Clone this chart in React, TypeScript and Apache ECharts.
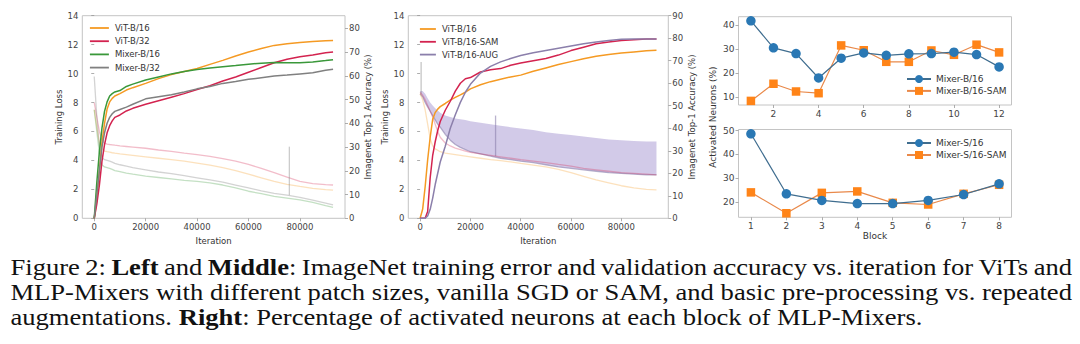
import React, { useEffect, useRef } from 'react';
import * as echarts from 'echarts';

// ---------- Left chart (ViT / Mixer patch sizes) ----------
const leftIter = [0, 1000, 2000, 3000, 4000, 5000, 6000, 7000, 8000, 10000, 12500, 15000, 20000, 25000, 30000, 35000, 40000, 45000, 50000, 55000, 60000, 65000, 70000, 75000, 80000, 85000, 90000, 92900];
const leftAccVitB16 = [0, 8, 20, 32, 40, 46, 49, 50.5, 51.5, 52.5, 54, 55, 56.8, 58.8, 60.5, 61.8, 63.1, 64.8, 66.5, 68.3, 70, 71.5, 72.8, 73.5, 74, 74.4, 74.8, 74.9];
const leftAccVitB32 = [0, 6, 14, 24, 31, 36, 39, 41, 42.5, 43.5, 45.2, 46.3, 48, 49.5, 51, 52.5, 54.2, 55.8, 57.8, 59.5, 61.5, 63.5, 65.5, 67, 68, 68.8, 69.7, 70];
const leftAccMixB16 = [0, 15, 28, 38, 45, 49, 51.5, 52.5, 53.2, 53.8, 55.5, 56.5, 58.2, 59.5, 60.8, 61.8, 62.6, 63.3, 63.8, 64.3, 64.9, 65.3, 65.6, 65.5, 65.5, 65.8, 66.4, 66.8];
const leftAccMixB32 = [0, 10, 20, 30, 36, 40, 42.5, 44, 45, 45.8, 46.8, 48, 50.3, 51.2, 52, 53.2, 54.5, 55.5, 56.8, 57.6, 58.5, 59.2, 59.9, 60.3, 60.8, 61.3, 62.3, 62.8];
const leftLossVitB16 = [7.5, 6.3, 5.2, 4.8, 4.65, 4.6, 4.57, 4.53, 4.5, 4.45, 4.4, 4.35, 4.25, 4.15, 4.05, 3.95, 3.82, 3.68, 3.5, 3.3, 3.05, 2.8, 2.55, 2.35, 2.2, 2.07, 1.98, 1.95];
const leftLossVitB32 = [8.0, 7.0, 6.0, 5.4, 5.2, 5.13, 5.1, 5.08, 5.05, 5.0, 4.96, 4.92, 4.84, 4.72, 4.62, 4.5, 4.4, 4.28, 4.12, 3.95, 3.72, 3.45, 3.15, 2.85, 2.55, 2.4, 2.33, 2.3];
const leftLossMixB16 = [7.5, 6.0, 4.5, 3.7, 3.55, 3.5, 3.45, 3.38, 3.3, 3.22, 3.12, 3.05, 2.92, 2.82, 2.72, 2.62, 2.55, 2.45, 2.3, 2.1, 1.87, 1.7, 1.52, 1.4, 1.27, 1.1, 0.88, 0.76];
const leftLossMixB32 = [9.8, 7.0, 5.0, 4.2, 4.05, 4.0, 3.95, 3.88, 3.8, 3.7, 3.6, 3.5, 3.35, 3.2, 3.08, 2.95, 2.8, 2.65, 2.5, 2.3, 2.1, 1.9, 1.72, 1.6, 1.45, 1.25, 1.05, 0.92];
const leftSpikeIter = [75900, 75900];
const leftSpikeLoss = [1.6, 4.95];

// ---------- Middle chart (SGD / SAM / AUG) ----------
const midIter = [0, 1000, 2000, 3000, 4000, 5000, 6000, 7000, 8000, 10000, 12000, 14000, 16000, 18000, 20000, 24000, 28000, 32000, 36000, 40000, 45000, 50000, 55000, 60000, 65000, 70000, 75000, 80000, 85000, 90000, 94000];
const midAccVit = [0, 4, 14, 26, 36, 44, 47, 48.5, 49.6, 51, 52.5, 53.7, 54.8, 56, 57.5, 59.3, 60.7, 61.8, 62.8, 63.6, 65.3, 66.8, 68.3, 69.6, 70.9, 72, 72.8, 73.4, 73.9, 74.4, 74.7];
const midAccSam = [0, 0, 0, 3, 18, 28, 34, 39, 43, 48, 52, 56.5, 60, 62, 62.5, 65, 66, 66.5, 68, 69, 70, 71, 72.5, 74.5, 76, 77.5, 78.3, 79, 79.3, 79.6, 79.7];
const midAccAug = [0, 0, 0, 1, 4, 9, 15, 20, 25, 32, 40, 46, 51.5, 56, 59.5, 64.5, 67.5, 69.5, 71, 72.3, 73.5, 74.5, 75.5, 76.5, 77.5, 78.3, 79, 79.5, 79.7, 79.7, 79.6];
const midLossVit = [8.6, 8.2, 7.5, 6.5, 5.5, 5.0, 4.8, 4.7, 4.6, 4.5, 4.45, 4.4, 4.35, 4.3, 4.25, 4.15, 4.05, 3.98, 3.9, 3.8, 3.68, 3.55, 3.38, 3.15, 2.9, 2.65, 2.45, 2.25, 2.1, 2.0, 1.96];
const midLossSam = [8.7, 8.5, 8.2, 7.8, 7.4, 7.0, 6.5, 6.0, 5.6, 5.2, 5.0, 4.85, 4.75, 4.65, 4.55, 4.45, 4.35, 4.25, 4.15, 4.05, 3.95, 3.85, 3.72, 3.6, 3.45, 3.35, 3.25, 3.15, 3.1, 3.05, 3.0];
const midLossAugLow = [8.6, 8.4, 8.0, 7.7, 7.4, 7.1, 6.8, 6.5, 6.3, 5.8, 5.4, 5.1, 4.9, 4.75, 4.6, 4.45, 4.3, 4.15, 4.05, 3.95, 3.85, 3.7, 3.55, 3.45, 3.35, 3.25, 3.15, 3.1, 3.05, 3.0, 3.0];
const midLossAugHigh = [8.8, 8.8, 8.6, 8.3, 8.0, 7.8, 7.6, 7.45, 7.3, 7.1, 7.0, 6.9, 6.85, 6.8, 6.7, 6.6, 6.5, 6.4, 6.3, 6.2, 6.1, 5.95, 5.85, 5.75, 5.65, 5.55, 5.45, 5.4, 5.35, 5.3, 5.3];
const midSpike1Iter = [400, 400];
const midSpike1Loss = [8.6, 10.8];
const midSpike2Iter = [30000, 30000];
const midSpike2Loss = [4.3, 7.1];

// ---------- Right charts (activated neurons) ----------
const blocksB = [1, 2, 3, 4, 5, 6, 7, 8, 9, 10, 11, 12];
const mixerB16 = [41.7, 30.5, 28.1, 18.0, 26.2, 28.4, 27.4, 28.0, 28.1, 28.7, 27.7, 22.6];
const mixerB16Sam = [8.5, 15.6, 12.4, 11.7, 31.5, 29.5, 24.7, 24.7, 29.4, 27.6, 31.8, 28.6];
const blocksS = [1, 2, 3, 4, 5, 6, 7, 8];
const mixerS16 = [48.7, 23.4, 20.6, 19.3, 19.3, 20.6, 23.1, 27.6];
const mixerS16Sam = [24.0, 15.2, 23.8, 24.4, 19.6, 18.9, 23.4, 27.2];

// ---------- Tick labels ----------
const iterTicks = [0, 20000, 40000, 60000, 80000];
const accTicksLeft = [0, 10, 20, 30, 40, 50, 60, 70, 80];
const blockTicksB = [2, 4, 6, 8, 10, 12];
const blockTicksS = [1, 2, 3, 4, 5, 6, 7, 8];
const neuronTicksB = [10, 20, 30, 40];
const neuronTicksS = [20, 30, 40, 50];

const CAPTION_LINES = [
  'Figure 2: **Left** and **Middle**: ImageNet training error and validation accuracy vs. iteration for ViTs and',
  'MLP-Mixers with different patch sizes, vanilla SGD or SAM, and basic pre-processing vs. repeated',
  'augmentations. **Right**: Percentage of activated neurons at each block of MLP-Mixers.',
];

const FONT = 'DejaVu Sans';
const SERIF = 'Liberation Serif';
const C_ORANGE = '#f59a23';
const C_RED = '#d3234f';
const C_GREEN = '#3a983a';
const C_GRAY = '#808080';
const C_PURPLE = '#8b7fab';
const C_BLUE = '#2a78b4';
const C_ORANGE2 = '#ff8418';

const pts = (xs: number[], ys: number[]) => xs.map((x, i) => [x, ys[i]]);

function buildCaption() {
  const size = 24;
  const ctx = document.createElement('canvas').getContext('2d')!;
  const meas = (t: string, bold: boolean) => {
    ctx.font = `${bold ? 'bold ' : ''}${size}px "${SERIF}"`;
    return ctx.measureText(t).width;
  };
  const parsed = CAPTION_LINES.map((line) =>
    line.split(' ').map((w) => {
      const runs: { t: string; b: boolean }[] = [];
      w.split(/(\*\*[^*]+\*\*)/).filter(Boolean).forEach((seg) => {
        if (seg.startsWith('**')) runs.push({ t: seg.slice(2, -2), b: true });
        else runs.push({ t: seg, b: false });
      });
      const width = runs.reduce((s, r) => s + meas(r.t, r.b), 0);
      return { runs, width };
    })
  );
  const space = meas(' ', false);
  const natural = (ws: { width: number }[]) => ws.reduce((s, w) => s + w.width, 0) + space * (ws.length - 1);
  const s = 912 / natural(parsed[2]);
  const targetW = 1061.5 / s;
  const baselines = [274.3, 299.3, 324.3];
  const children: any[] = [];
  parsed.forEach((ws, li) => {
    const sum = ws.reduce((a, w) => a + w.width, 0);
    const gap = li < 2 ? (targetW - sum) / (ws.length - 1) : space;
    let x = 0;
    ws.forEach((w) => {
      children.push({
        type: 'text',
        x,
        y: baselines[li] - 8.1,
        silent: true,
        style: {
          text: w.runs.map((r) => (r.b ? `{b|${r.t}}` : r.t)).join(''),
          rich: { b: { fontWeight: 'bold', fontSize: size, fontFamily: SERIF, fill: '#111' } },
          fontSize: size,
          fontFamily: SERIF,
          fill: '#111',
          align: 'left',
          verticalAlign: 'middle',
        },
      });
      x += w.width + gap;
    });
  });
  return { type: 'group', x: 10.5, y: 0, scaleX: s, scaleY: 1, children };
}

const tick = (vals: number[] | null) => ({
  show: true,
  length: 3,
  lineStyle: { color: '#999', width: 0.8 },
  ...(vals ? { customValues: vals } : {}),
});
const lab = (vals: number[] | null, size = 8.5, margin = 4) => ({
  fontSize: size,
  color: '#444',
  fontFamily: FONT,
  margin,
  formatter: (v: number) => String(v),
  ...(vals ? { customValues: vals } : {}),
});
const nameStyle = (size = 8.5) => ({ fontSize: size, color: '#333', fontFamily: FONT });

function buildOption(): any {
  const gridBase = { show: true, borderColor: '#c4c4c4', borderWidth: 1, backgroundColor: 'transparent', containLabel: false };
  const lossLine = (name: string, xs: number[], ys: number[], color: string, xi: number, yi: number, op = 0.35) => ({
    type: 'line', name, xAxisIndex: xi, yAxisIndex: yi, data: pts(xs, ys), symbol: 'none', silent: true, z: 1,
    lineStyle: { color, width: 1.3, opacity: op }, itemStyle: { color },
  });
  const accLine = (name: string, xs: number[], ys: number[], color: string, xi: number, yi: number) => ({
    type: 'line', name, xAxisIndex: xi, yAxisIndex: yi, data: pts(xs, ys), symbol: 'none', z: 5,
    lineStyle: { color, width: 1.5 }, itemStyle: { color },
  });
  const legendLineText = { fontSize: 8.5, color: '#333', fontFamily: FONT, padding: [0, 0, 0, 1] };

  return {
    animation: false,
    backgroundColor: '#ffffff',
    grid: [
      { ...gridBase, left: 82.3, top: 15.7, width: 262.7, height: 202.6 },
      { ...gridBase, left: 408.3, top: 15.7, width: 260, height: 202.6 },
      { ...gridBase, left: 738.5, top: 16.7, width: 273, height: 88.3 },
      { ...gridBase, left: 738.5, top: 129.5, width: 273, height: 87.8 },
    ],
    xAxis: [
      {
        type: 'value', gridIndex: 0, min: -4645, max: 97545, axisLine: { show: false }, splitLine: { show: false },
        axisTick: tick(iterTicks), axisLabel: lab(iterTicks),
        name: 'Iteration', nameLocation: 'middle', nameGap: 13, nameTextStyle: nameStyle(),
      },
      {
        type: 'value', gridIndex: 1, min: -4700, max: 98700, axisLine: { show: false }, splitLine: { show: false },
        axisTick: tick(iterTicks), axisLabel: lab(iterTicks),
        name: 'Iteration', nameLocation: 'middle', nameGap: 13, nameTextStyle: nameStyle(),
      },
      {
        type: 'value', gridIndex: 2, min: 0.45, max: 12.55, axisLine: { show: false }, splitLine: { show: false },
        axisTick: tick(blockTicksB), axisLabel: lab(blockTicksB, 9),
      },
      {
        type: 'value', gridIndex: 3, min: 0.65, max: 8.35, axisLine: { show: false }, splitLine: { show: false },
        axisTick: tick(blockTicksS), axisLabel: lab(blockTicksS, 9),
        name: 'Block', nameLocation: 'middle', nameGap: 14, nameTextStyle: nameStyle(9),
      },
    ],
    yAxis: [
      {
        type: 'value', gridIndex: 0, min: 0, max: 14, interval: 2, axisLine: { show: false }, splitLine: { show: false },
        axisTick: tick(null), axisLabel: lab(null),
        name: 'Training Loss', nameLocation: 'middle', nameGap: 17, nameTextStyle: nameStyle(),
      },
      {
        type: 'value', gridIndex: 0, position: 'right', min: 0, max: 85.3, axisLine: { show: false }, splitLine: { show: false },
        axisTick: tick(accTicksLeft), axisLabel: lab(accTicksLeft),
        name: 'Imagenet Top-1 Accuracy (%)', nameLocation: 'middle', nameGap: 14, nameTextStyle: nameStyle(),
      },
      {
        type: 'value', gridIndex: 1, min: 0, max: 14, interval: 2, axisLine: { show: false }, splitLine: { show: false },
        axisTick: tick(null), axisLabel: lab(null),
        name: 'Training Loss', nameLocation: 'middle', nameGap: 19, nameTextStyle: nameStyle(),
      },
      {
        type: 'value', gridIndex: 1, position: 'right', min: 0, max: 90, interval: 10, axisLine: { show: false }, splitLine: { show: false },
        axisTick: tick(null), axisLabel: lab(null),
        name: 'Imagenet Top-1 Accuracy (%)', nameLocation: 'middle', nameGap: 15, nameTextStyle: nameStyle(),
      },
      {
        type: 'value', gridIndex: 2, min: 6.8, max: 43.4, axisLine: { show: false }, splitLine: { show: false },
        axisTick: tick(neuronTicksB), axisLabel: lab(neuronTicksB, 9),
      },
      {
        type: 'value', gridIndex: 3, min: 13.5, max: 50.5, axisLine: { show: false }, splitLine: { show: false },
        axisTick: tick(neuronTicksS), axisLabel: lab(neuronTicksS, 9),
      },
    ],
    legend: [
      {
        data: ['ViT-B/16', 'ViT-B/32', 'Mixer-B/16', 'Mixer-B/32'], orient: 'vertical', left: 89, top: 23.5,
        itemWidth: 19, itemHeight: 10, itemGap: 4.2, padding: 0, selectedMode: false,
        itemStyle: { opacity: 0 }, lineStyle: { width: 1.8 },
        textStyle: legendLineText,
      },
      {
        data: ['ViT-B/16', 'ViT-B/16-SAM', 'ViT-B/16-AUG'], orient: 'vertical', left: 419, top: 24.5,
        itemWidth: 16, itemHeight: 10, itemGap: 3.8, padding: 0, selectedMode: false,
        itemStyle: { opacity: 0 }, lineStyle: { width: 1.8 },
        textStyle: legendLineText,
      },
      {
        data: ['R: Mixer-B/16', 'R: Mixer-B/16-SAM'], orient: 'vertical', left: 906, top: 74.5,
        itemWidth: 24, itemHeight: 10, itemGap: 2.9, padding: 0, selectedMode: false,
        formatter: (n: string) => n.replace('R: ', ''),
        textStyle: { fontSize: 9, color: '#333', fontFamily: FONT },
      },
      {
        data: ['R: Mixer-S/16', 'R: Mixer-S/16-SAM'], orient: 'vertical', left: 906, top: 138.5,
        itemWidth: 24, itemHeight: 10, itemGap: 3.0, padding: 0, selectedMode: false,
        formatter: (n: string) => n.replace('R: ', ''),
        textStyle: { fontSize: 9, color: '#333', fontFamily: FONT },
      },
    ],
    graphic: [
      {
        type: 'text', x: 712.7, y: 117, rotation: Math.PI / 2, silent: true,
        style: { text: 'Activated Neurons (%)', fontSize: 9, fontFamily: FONT, fill: '#333', align: 'center', verticalAlign: 'middle' },
      },
      buildCaption(),
    ],
    series: [
      // left: training losses (faint)
      lossLine('ViT-B/32 loss', leftIter, leftLossVitB32, C_RED, 0, 0, 0.3),
      lossLine('ViT-B/16 loss', leftIter, leftLossVitB16, C_ORANGE, 0, 0, 0.3),
      lossLine('Mixer-B/32 loss', leftIter, leftLossMixB32, C_GRAY, 0, 0, 0.35),
      lossLine('Mixer-B/16 loss', leftIter, leftLossMixB16, C_GREEN, 0, 0, 0.3),
      lossLine('Mixer-B/32 spike', leftSpikeIter, leftSpikeLoss, C_GRAY, 0, 0, 0.4),
      // left: accuracies
      accLine('ViT-B/16', leftIter, leftAccVitB16, C_ORANGE, 0, 1),
      accLine('ViT-B/32', leftIter, leftAccVitB32, C_RED, 0, 1),
      accLine('Mixer-B/16', leftIter, leftAccMixB16, C_GREEN, 0, 1),
      accLine('Mixer-B/32', leftIter, leftAccMixB32, C_GRAY, 0, 1),
      // middle: AUG loss band (between low and high read-offs)
      {
        type: 'custom', name: 'AUG loss band', xAxisIndex: 1, yAxisIndex: 2, data: [[0, 0]], silent: true, z: 1,
        renderItem: (_params: any, api: any) => {
          const upper = midIter.map((x, i) => api.coord([x, midLossAugHigh[i]]));
          const lower = midIter.map((x, i) => api.coord([x, midLossAugLow[i]])).reverse();
          return {
            type: 'polygon',
            shape: { points: upper.concat(lower) },
            style: { fill: '#bfb3de', opacity: 0.7, stroke: 'none' },
          };
        },
      },
      lossLine('AUG loss low', midIter, midLossAugLow, C_PURPLE, 1, 2, 0.6),
      lossLine('AUG spike 1', midSpike1Iter, midSpike1Loss, C_GRAY, 1, 2, 0.45),
      lossLine('AUG spike 2', midSpike2Iter, midSpike2Loss, C_PURPLE, 1, 2, 0.6),
      lossLine('ViT-B/16-SAM loss', midIter, midLossSam, C_RED, 1, 2, 0.3),
      lossLine('ViT-B/16 loss mid', midIter, midLossVit, C_ORANGE, 1, 2, 0.3),
      // middle: accuracies
      accLine('ViT-B/16', midIter, midAccVit, C_ORANGE, 1, 3),
      accLine('ViT-B/16-SAM', midIter, midAccSam, C_RED, 1, 3),
      accLine('ViT-B/16-AUG', midIter, midAccAug, C_PURPLE, 1, 3),
      // right top
      {
        type: 'line', name: 'R: Mixer-B/16', xAxisIndex: 2, yAxisIndex: 4, data: pts(blocksB, mixerB16),
        symbol: 'circle', symbolSize: 9.5, itemStyle: { color: C_BLUE }, lineStyle: { color: '#3f6d8f', width: 1.2 }, z: 4,
      },
      {
        type: 'line', name: 'R: Mixer-B/16-SAM', xAxisIndex: 2, yAxisIndex: 4, data: pts(blocksB, mixerB16Sam),
        symbol: 'rect', symbolSize: 8.5, itemStyle: { color: C_ORANGE2 }, lineStyle: { color: '#e9894a', width: 1.2 }, z: 3,
      },
      // right bottom
      {
        type: 'line', name: 'R: Mixer-S/16', xAxisIndex: 3, yAxisIndex: 5, data: pts(blocksS, mixerS16),
        symbol: 'circle', symbolSize: 9.5, itemStyle: { color: C_BLUE }, lineStyle: { color: '#3f6d8f', width: 1.2 }, z: 4,
      },
      {
        type: 'line', name: 'R: Mixer-S/16-SAM', xAxisIndex: 3, yAxisIndex: 5, data: pts(blocksS, mixerS16Sam),
        symbol: 'rect', symbolSize: 8.5, itemStyle: { color: C_ORANGE2 }, lineStyle: { color: '#e9894a', width: 1.2 }, z: 3,
      },
    ],
  };
}

export default function App() {
  const ref = useRef<HTMLDivElement>(null);
  useEffect(() => {
    if (!ref.current) return;
    const chart = echarts.init(ref.current, null, { renderer: 'svg' });
    chart.setOption(buildOption());
    return () => chart.dispose();
  }, []);
  return (
    <div
      ref={ref}
      style={{ position: 'absolute', left: 0, top: 0, width: 1080, height: 344, background: '#fff' }}
    />
  );
}
